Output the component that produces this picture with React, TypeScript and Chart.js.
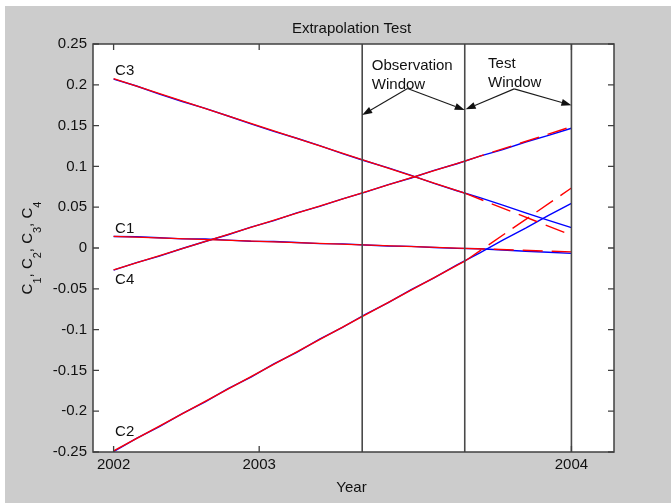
import { useEffect, useRef } from 'react';
import { Chart, registerables } from 'chart.js';

Chart.register(...registerables);

// Time axis: 2002 sits at t = 0 and 2004 at t = 100.
const sampleTimes = [0, 5, 10, 15, 20, 25, 30, 35, 40, 45, 50, 55, 60, 65, 70, 75, 80, 85, 90, 95, 100];

// Observed coefficients
const c1Observed = [0.0141, 0.0138, 0.0125, 0.0112, 0.011, 0.0097, 0.0083, 0.008, 0.0067, 0.0054, 0.005, 0.0037, 0.0024, 0.002, 0.0007, -0.0004, -0.001, -0.0024, -0.004, -0.0052, -0.0066];
const c2Observed = [-0.2495, -0.2332, -0.2189, -0.203, -0.1886, -0.1724, -0.1581, -0.142, -0.1278, -0.1116, -0.0974, -0.0812, -0.0669, -0.0509, -0.0365, -0.0206, -0.006, 0.0097, 0.0243, 0.0401, 0.0548];
const c3Observed = [0.207, 0.1985, 0.1886, 0.1795, 0.1712, 0.1618, 0.1521, 0.143, 0.1345, 0.1255, 0.1157, 0.1066, 0.0981, 0.0889, 0.0792, 0.0702, 0.0617, 0.0526, 0.043, 0.0338, 0.025];
const c4Observed = [-0.0272, -0.018, -0.0099, -0.0006, 0.008, 0.0162, 0.0255, 0.0336, 0.043, 0.051, 0.0603, 0.0684, 0.0777, 0.0858, 0.0951, 0.1032, 0.1125, 0.1206, 0.1299, 0.138, 0.1468];

// Fitted model up to the end of the observation window
const fitTimes = [0, 76.7];
const c1Fit = [0.0142, -0.0004];
const c2Fit = [-0.2485, -0.0162];
const c3Fit = [0.2075, 0.0672];
const c4Fit = [-0.0268, 0.1065];

// Model extrapolated across the test window
const extrapTimes = [76.7, 100];
const c1Extrap = [-0.0004, -0.0048];
const c2Extrap = [-0.0162, 0.0735];
const c3Extrap = [0.0672, 0.0157];
const c4Extrap = [0.1065, 0.1487];

// Window boundaries
const windowBounds = [54.3, 76.7, 100];

// Axis ticks
const xTickValues = [0, 31.8, 100];
const xTickLabels = ['2002', '2003', '2004'];
const yTickValues = [-0.25, -0.2, -0.15, -0.1, -0.05, 0, 0.05, 0.1, 0.15, 0.2, 0.25];
const yTickLabels = ['-0.25', '-0.2', '-0.15', '-0.1', '-0.05', '0', '0.05', '0.1', '0.15', '0.2', '0.25'];

// Curve names placed at the start of each curve
const curveNames = ['C1', 'C2', 'C3', 'C4'];
const curveNameT = [0, 0, 0, 0];
const curveNameY = [0.025, -0.224, 0.218, -0.038];

// Window notes and their arrows
const noteLines = [['Observation', 'Window'], ['Test', 'Window']];
const noteT = [56.4, 81.8];
const noteY = [0.218, 0.2202];
const arrowFromT = [64.2, 64.2, 87.5, 87.5];
const arrowFromY = [0.1955, 0.1955, 0.195, 0.195];
const arrowToT = [54.3, 76.7, 76.9, 100];
const arrowToY = [0.163, 0.169, 0.17, 0.175];

const titleText = 'Extrapolation Test';
const xTitleText = 'Year';
const yTitleParts: [string, boolean][] = [
  ['C', false], ['1', true], [', ', false],
  ['C', false], ['2', true], [', ', false],
  ['C', false], ['3', true], [', ', false],
  ['C', false], ['4', true],
];

const FONT_FAMILY = '"Liberation Sans", Arial, Helvetica, sans-serif';
const INK = '#111111';
const FRAME = '#404040';
const OBSERVED = '#0000ff';
const MODEL = '#ff0000';

const pts = (xs: number[], ys: number[]) => xs.map((x, i) => ({ x, y: ys[i] }));

const observedSets = [c1Observed, c2Observed, c3Observed, c4Observed];
const fitSets = [c1Fit, c2Fit, c3Fit, c4Fit];
const extrapSets = [c1Extrap, c2Extrap, c3Extrap, c4Extrap];

const figurePlugin = {
  id: 'figure',
  beforeDraw(chart: any) {
    const { ctx, chartArea: a, width, height } = chart;
    ctx.save();
    ctx.fillStyle = '#ffffff';
    ctx.fillRect(0, 0, width, height);
    ctx.fillStyle = '#cccccc';
    ctx.fillRect(5, 6, width - 5, height - 7);
    ctx.fillStyle = '#ffffff';
    ctx.fillRect(a.left, a.top, a.right - a.left, a.bottom - a.top);
    ctx.restore();
  },
  afterDatasetsDraw(chart: any) {
    const { ctx, chartArea: a } = chart;
    const xs = chart.scales.x;
    const ys = chart.scales.y;
    ctx.save();

    // window boundaries
    ctx.strokeStyle = '#4a4a4a';
    ctx.lineWidth = 1.6;
    windowBounds.forEach((b) => {
      const px = xs.getPixelForValue(b);
      ctx.beginPath();
      ctx.moveTo(px, a.top);
      ctx.lineTo(px, a.bottom);
      ctx.stroke();
    });

    // axes box with inward ticks
    ctx.strokeStyle = FRAME;
    ctx.lineWidth = 1.5;
    ctx.strokeRect(a.left, a.top, a.right - a.left, a.bottom - a.top);
    ctx.lineWidth = 1.3;
    const tl = 6;
    yTickValues.forEach((v) => {
      const py = ys.getPixelForValue(v);
      ctx.beginPath();
      ctx.moveTo(a.left, py);
      ctx.lineTo(a.left + tl, py);
      ctx.moveTo(a.right, py);
      ctx.lineTo(a.right - tl, py);
      ctx.stroke();
    });
    xTickValues.forEach((v) => {
      const px = xs.getPixelForValue(v);
      ctx.beginPath();
      ctx.moveTo(px, a.top);
      ctx.lineTo(px, a.top + tl);
      ctx.moveTo(px, a.bottom);
      ctx.lineTo(px, a.bottom - tl);
      ctx.stroke();
    });

    // curve names
    ctx.fillStyle = INK;
    ctx.font = `15px ${FONT_FAMILY}`;
    ctx.textAlign = 'left';
    ctx.textBaseline = 'alphabetic';
    curveNames.forEach((n, i) => {
      ctx.fillText(n, xs.getPixelForValue(curveNameT[i]) + 1.5, ys.getPixelForValue(curveNameY[i]) + 5);
    });

    // window notes
    noteLines.forEach((lines, i) => {
      const px = xs.getPixelForValue(noteT[i]);
      const py = ys.getPixelForValue(noteY[i]);
      lines.forEach((ln, j) => ctx.fillText(ln, px, py + j * 19));
    });

    // arrows
    ctx.strokeStyle = '#1a1a1a';
    ctx.fillStyle = '#111111';
    ctx.lineWidth = 1.1;
    arrowFromT.forEach((ft, i) => {
      const x0 = xs.getPixelForValue(ft);
      const y0 = ys.getPixelForValue(arrowFromY[i]);
      const x1 = xs.getPixelForValue(arrowToT[i]);
      const y1 = ys.getPixelForValue(arrowToY[i]);
      const ang = Math.atan2(y1 - y0, x1 - x0);
      const head = 10;
      const half = 3.5;
      const bx = x1 - head * Math.cos(ang);
      const by = y1 - head * Math.sin(ang);
      ctx.beginPath();
      ctx.moveTo(x0, y0);
      ctx.lineTo(bx, by);
      ctx.stroke();
      ctx.beginPath();
      ctx.moveTo(x1, y1);
      ctx.lineTo(bx - half * Math.sin(ang), by + half * Math.cos(ang));
      ctx.lineTo(bx + half * Math.sin(ang), by - half * Math.cos(ang));
      ctx.closePath();
      ctx.fill();
    });

    // titles
    ctx.fillStyle = INK;
    ctx.textAlign = 'center';
    const cx = (a.left + a.right) / 2 - 2;
    ctx.font = `15px ${FONT_FAMILY}`;
    ctx.fillText(titleText, cx, a.top - 11.5);
    ctx.fillText(xTitleText, cx, a.bottom + 39.5);

    // y title with subscripts
    const mainFont = `15px ${FONT_FAMILY}`;
    const subFont = `11px ${FONT_FAMILY}`;
    let total = 0;
    yTitleParts.forEach(([s, sub]) => {
      ctx.font = sub ? subFont : mainFont;
      total += ctx.measureText(s).width;
    });
    ctx.translate(a.left - 61.5, (a.top + a.bottom) / 2);
    ctx.rotate(-Math.PI / 2);
    ctx.textAlign = 'left';
    let x = -total / 2;
    yTitleParts.forEach(([s, sub]) => {
      ctx.font = sub ? subFont : mainFont;
      ctx.fillText(s, x, sub ? 9.5 : 0);
      x += ctx.measureText(s).width;
    });
    ctx.restore();
  },
};

export default function App() {
  const ref = useRef<HTMLCanvasElement>(null);

  useEffect(() => {
    if (!ref.current) return;
    const datasets: any[] = [];
    observedSets.forEach((vals) => {
      datasets.push({
        data: pts(sampleTimes, vals),
        borderColor: OBSERVED,
        borderWidth: 1.4,
        pointRadius: 0,
        tension: 0,
        order: 2,
      });
    });
    fitSets.forEach((vals) => {
      datasets.push({
        data: pts(fitTimes, vals),
        borderColor: MODEL,
        borderWidth: 1.4,
        pointRadius: 0,
        tension: 0,
        order: 1,
      });
    });
    extrapSets.forEach((vals) => {
      datasets.push({
        data: pts(extrapTimes, vals),
        borderColor: MODEL,
        borderWidth: 1.4,
        borderDash: [20, 9],
        pointRadius: 0,
        tension: 0,
        order: 1,
      });
    });

    const tickFont = { family: FONT_FAMILY, size: 15 };
    const chart = new Chart(ref.current, {
      type: 'line',
      data: { datasets },
      options: {
        animation: false,
        responsive: false,
        events: [],
        layout: { padding: { top: 44, right: 57, left: 0, bottom: 0 } },
        plugins: { legend: { display: false }, title: { display: false }, tooltip: { enabled: false } },
        scales: {
          x: {
            type: 'linear',
            min: -4.5,
            max: 109.3,
            grid: { display: false, drawTicks: false },
            border: { display: false },
            afterBuildTicks: (s: any) => {
              s.ticks = xTickValues.map((v) => ({ value: v }));
            },
            afterFit: (s: any) => {
              s.height = 52;
            },
            ticks: {
              autoSkip: false,
              maxRotation: 0,
              padding: 4,
              color: INK,
              font: tickFont,
              callback: (_v: any, i: number) => xTickLabels[i],
            },
          },
          y: {
            type: 'linear',
            min: -0.25,
            max: 0.25,
            grid: { display: false, drawTicks: false },
            border: { display: false },
            afterBuildTicks: (s: any) => {
              s.ticks = yTickValues.map((v) => ({ value: v }));
            },
            afterFit: (s: any) => {
              s.width = 93;
            },
            ticks: {
              autoSkip: false,
              padding: 6,
              color: INK,
              font: tickFont,
              callback: (_v: any, i: number) => yTickLabels[i],
            },
          },
        },
      },
      plugins: [figurePlugin],
    });
    return () => chart.destroy();
  }, []);

  return (
    <div style={{ position: 'absolute', left: 0, top: 0, width: 671, height: 504 }}>
      <canvas ref={ref} width={671} height={504} style={{ display: 'block', width: 671, height: 504 }} />
    </div>
  );
}
